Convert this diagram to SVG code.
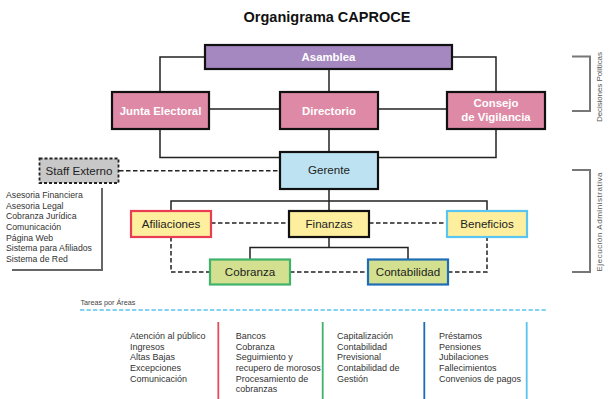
<svg xmlns="http://www.w3.org/2000/svg" width="611" height="399" viewBox="0 0 611 399">
<style>
  text { font-family: "Liberation Sans", Arial, sans-serif; }
  .title { font-size: 14.5px; font-weight: bold; fill: #111; text-anchor: middle; }
  .box { stroke: #111; stroke-width: 2.2; }
  .bw { font-size: 11.4px; font-weight: bold; fill: #fff; text-anchor: middle; }
  .bt { font-size: 11.6px; fill: #222; text-anchor: middle; }
  .pink { fill: #de89a5; }
  .line { fill: none; stroke: #222; stroke-width: 1.5; }
  .dash { fill: none; stroke: #222; stroke-width: 1.5; stroke-dasharray: 4.5 2.5; }
  .small { font-size: 8.7px; fill: #333; }
  .col { font-size: 9px; fill: #333; }
  .brk { fill: none; stroke: #777; stroke-width: 2; }
  .side { font-size: 8px; fill: #555; text-anchor: middle; }
</style>
<rect width="611" height="399" fill="#fff"/>
<text class="title" x="327" y="22">Organigrama CAPROCE</text>

<g id="connectors">
  <path class="line" d="M205 57 H160 V92"/>
  <path class="line" d="M452 57 H496 V92"/>
  <path class="line" d="M329 69 V92"/>
  <path class="line" d="M209 109 H280"/>
  <path class="line" d="M378 109 H447"/>
  <path class="line" d="M160 129 V157.5 H280"/>
  <path class="line" d="M496 129 V157.5 H378"/>
  <path class="line" d="M329 129 V152"/>
  <path class="line" d="M329 189 V211"/>
  <path class="line" d="M171 211 V201 H487 V211"/>
  <path class="line" d="M329 237 V247.5"/>
  <path class="line" d="M250 259.5 V247.5 H408 V259.5"/>
  <path class="dash" d="M119 170.7 H280"/>
  <path class="dash" d="M211 223 H289"/>
  <path class="dash" d="M369 223 H447"/>
  <path class="dash" d="M171 237 V272 H210"/>
  <path class="dash" d="M290 272 H368"/>
  <path class="dash" d="M448 272 H487 V237"/>
</g>

<g id="asamblea">
  <rect class="box" x="205" y="45" width="247" height="24" fill="#a588bf"/>
  <text class="bw" x="328.5" y="61">Asamblea</text>
</g>
<g id="junta-electoral">
  <rect class="box pink" x="112" y="92" width="97" height="37"/>
  <text class="bw" x="160.5" y="114.5">Junta Electoral</text>
</g>
<g id="directorio">
  <rect class="box pink" x="280" y="92" width="98" height="37"/>
  <text class="bw" x="329" y="114.5">Directorio</text>
</g>
<g id="consejo-vigilancia">
  <rect class="box pink" x="447" y="92" width="98" height="37"/>
  <text class="bw" x="496" y="107">Consejo</text>
  <text class="bw" x="496" y="121">de Vigilancia</text>
</g>
<g id="gerente">
  <rect class="box" x="280" y="152" width="98" height="37" fill="#bde3f3"/>
  <text class="bt" x="329" y="174">Gerente</text>
</g>
<g id="staff-externo">
  <rect x="39.5" y="158.5" width="79" height="24.5" fill="#c8c8c8" stroke="#222" stroke-width="1.8" stroke-dasharray="3 2"/>
  <text class="bt" x="79" y="175">Staff Externo</text>
  <path d="M102 188 V270 H12" fill="none" stroke="#666" stroke-width="2"/>
  <text class="small" x="6">
    <tspan x="6" y="198">Asesoria Financiera</tspan>
    <tspan x="6" y="208.7">Asesoria Legal</tspan>
    <tspan x="6" y="219.3">Cobranza Jurídica</tspan>
    <tspan x="6" y="230">Comunicación</tspan>
    <tspan x="6" y="240.7">Página Web</tspan>
    <tspan x="6" y="251.3">Sistema para Afiliados</tspan>
    <tspan x="6" y="262">Sistema de Red</tspan>
  </text>
</g>
<g id="afiliaciones">
  <rect x="131" y="211" width="80" height="26" fill="#fdef9e" stroke="#ea3d52" stroke-width="2.2"/>
  <text class="bt" x="171" y="228">Afiliaciones</text>
</g>
<g id="finanzas">
  <rect class="box" x="289" y="211" width="80" height="26" fill="#fdef9e"/>
  <text class="bt" x="329" y="228">Finanzas</text>
</g>
<g id="beneficios">
  <rect x="447" y="211" width="80" height="26" fill="#fdef9e" stroke="#5bc5f2" stroke-width="2.2"/>
  <text class="bt" x="487" y="228">Beneficios</text>
</g>
<g id="cobranza">
  <rect x="210" y="259.5" width="80" height="25" fill="#d3e08f" stroke="#3fb36a" stroke-width="2.2"/>
  <text class="bt" x="250" y="276">Cobranza</text>
</g>
<g id="contabilidad">
  <rect x="368" y="259.5" width="80" height="25" fill="#d3e08f" stroke="#1f6db6" stroke-width="2.2"/>
  <text class="bt" x="408" y="276">Contabilidad</text>
</g>

<g id="brackets">
  <path class="brk" d="M572 56.5 H590 V111 H572"/>
  <text class="side" x="602" y="87" transform="rotate(-90 602 87)" textLength="70" lengthAdjust="spacing">Decisiones Políticas</text>
  <path class="brk" d="M572 170 H590 V272 H572"/>
  <text class="side" x="602" y="222" transform="rotate(-90 602 222)" textLength="99" lengthAdjust="spacing">Ejecución Administrativa</text>
</g>

<g id="tareas">
  <text x="80.5" y="305" font-size="7.2" fill="#444">Tareas por Áreas</text>
  <path d="M80 310 H547" fill="none" stroke="#5bc2ef" stroke-width="1.6" stroke-dasharray="4.3 2.2"/>
  <path d="M218.3 322 V399" stroke="#e84c5a" stroke-width="1.8"/>
  <path d="M322.7 322 V399" stroke="#3db36b" stroke-width="1.8"/>
  <path d="M424.3 322 V399" stroke="#1e6bb8" stroke-width="1.8"/>
  <path d="M526.7 322 V399" stroke="#5bc2f0" stroke-width="1.8"/>
  <text class="col">
    <tspan x="130" y="339">Atención al público</tspan>
    <tspan x="130" y="349.7">Ingresos</tspan>
    <tspan x="130" y="360.3">Altas Bajas</tspan>
    <tspan x="130" y="371">Excepciones</tspan>
    <tspan x="130" y="381.7">Comunicación</tspan>
  </text>
  <text class="col">
    <tspan x="235.7" y="339">Bancos</tspan>
    <tspan x="235.7" y="349.7">Cobranza</tspan>
    <tspan x="235.7" y="360.3">Seguimiento y</tspan>
    <tspan x="235.7" y="371">recupero de morosos</tspan>
    <tspan x="235.7" y="381.7">Procesamiento de</tspan>
    <tspan x="235.7" y="392.3">cobranzas</tspan>
  </text>
  <text class="col">
    <tspan x="337" y="339">Capitalización</tspan>
    <tspan x="337" y="349.7">Contabilidad</tspan>
    <tspan x="337" y="360.3">Previsional</tspan>
    <tspan x="337" y="371">Contabilidad de</tspan>
    <tspan x="337" y="381.7">Gestión</tspan>
  </text>
  <text class="col">
    <tspan x="439" y="339">Préstamos</tspan>
    <tspan x="439" y="349.7">Pensiones</tspan>
    <tspan x="439" y="360.3">Jubilaciones</tspan>
    <tspan x="439" y="371">Fallecimientos</tspan>
    <tspan x="439" y="381.7">Convenios de pagos</tspan>
  </text>
</g>
</svg>
